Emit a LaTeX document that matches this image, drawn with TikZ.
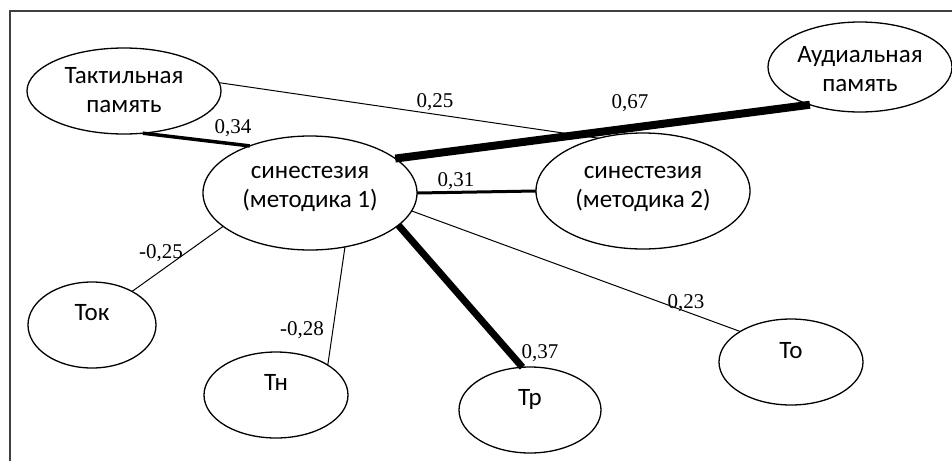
\documentclass[tikz,border=0pt]{standalone}
\usepackage{fontspec}
\setmainfont{Liberation Serif}
\newfontfamily\ellfont{Carlito}
\usetikzlibrary{shapes.geometric}
\newcommand\elltext[2]{\raisebox{#1}[\height][\depth]{\begin{tabular}{@{}c@{}}#2\end{tabular}}}
\begin{document}
\begin{tikzpicture}[x=1pt,y=-1pt,
  ell/.style 2 args={ellipse, draw, line width=1.3pt, inner sep=0pt, outer sep=0pt,
    minimum width=#1, minimum height=#2, font=\ellfont\fontsize{25}{29}\selectfont},
  lab/.style={anchor=base, inner sep=0pt, font=\fontsize{21}{25}\selectfont},
  thinlink/.style={line width=1pt},
  frame/.style={line width=1.5pt, draw=black!75}]
\useasboundingbox (0,0) rectangle (952,461);
\draw[frame] (10,461) -- (10,11) -- (952,11);

\node[ell={194}{86}] (tact) at (124,91) {\elltext{-1pt}{Тактильная\\память}};
\node[ell={214}{114}] (syn1) at (310,193) {\elltext{6pt}{синестезия\\(методика 1)}};
\node[ell={184}{90}] (aud) at (860,67) {\elltext{-4pt}{Аудиальная\\память}};
\node[ell={214}{116}] (syn2) at (643,191) {\elltext{4pt}{синестезия\\(методика 2)}};
\node[ell={128}{86}] (tok) at (92,325) {\elltext{10pt}{Ток}};
\node[ell={144}{86}] (tn) at (276,395) {\elltext{10pt}{Тн}};
\node[ell={142}{86}] (tr) at (530,410) {\elltext{10pt}{Тр}};
\node[ell={144}{86}] (to) at (791,362) {\elltext{9pt}{То}};

\draw[line width=3.5pt] (tact.-66) -- (syn1.142);
\draw[thinlink] (tact.5) -- (syn2.130);
\draw[line width=8pt] (syn1.22) -- (aud.217);
\draw[line width=3pt] (syn1.0) -- (syn2.180);
\draw[thinlink] (syn1.201) -- (tok.40);
\draw[thinlink] (syn1.-57) -- (tn.30);
\draw[line width=7pt] (syn1.-20) -- (tr.100);
\draw[thinlink] (syn1.-10) -- (to.149);

\node[lab] (l034) at (233,133) {0,34};
\node[lab] (l025) at (435,107) {0,25};
\node[lab] (l067) at (630,108) {0,67};
\node[lab] (l031) at (456,186) {0,31};
\node[lab] (lm025) at (161,258) {-0,25};
\node[lab] (lm028) at (302,335) {-0,28};
\node[lab] (l037) at (540,358) {0,37};
\node[lab] (l023) at (686,308) {0,23};
\end{tikzpicture}
\end{document}
